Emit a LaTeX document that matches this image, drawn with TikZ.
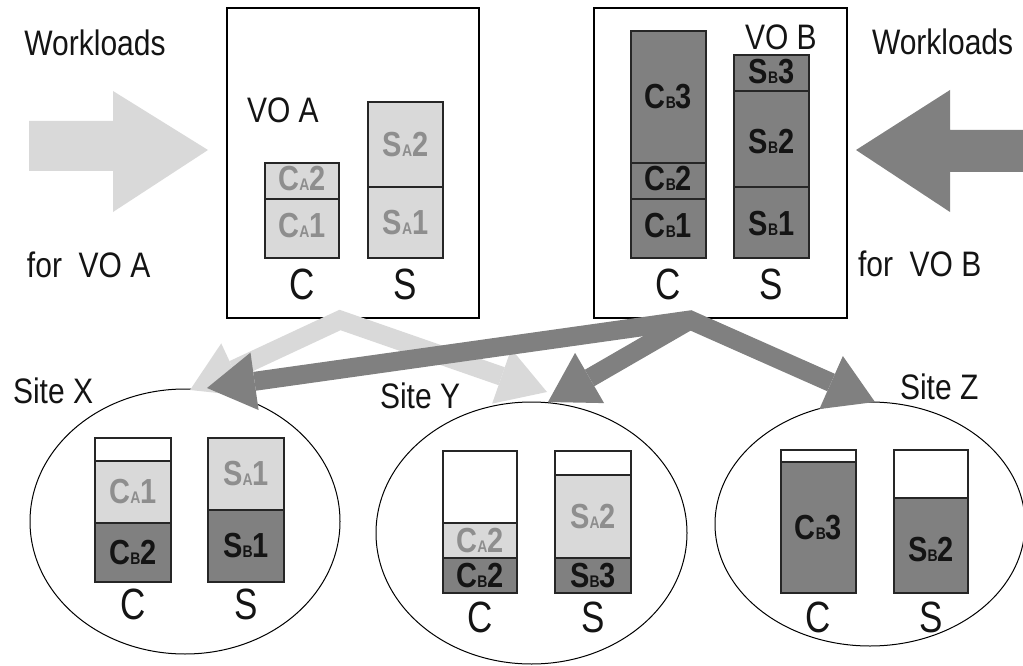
\documentclass[tikz,border=0pt]{standalone}
\usepackage{fontspec}
\usepackage{graphicx}
\setmainfont{Liberation Sans}
\usetikzlibrary{arrows.meta,shapes.geometric}

\definecolor{paleload}{HTML}{D9D9D9}
\definecolor{deepload}{HTML}{808080}
\definecolor{paletext}{HTML}{8E8E8E}
\definecolor{deeptext}{HTML}{141414}

% taller-than-wide lettering used throughout
\newcommand\vstretch[2]{\scalebox{1}[#1]{#2}}
% job name: letter, small owner letter, index
\newcommand\job[3]{\vstretch{1.2}{\bfseries #1{\fontsize{14}{14}\selectfont #2}#3}}
\newcommand\captext[1]{\vstretch{1.18}{#1}}
\newcommand\axistext[1]{\vstretch{1.25}{#1}}

\tikzset{
  every node/.style={inner sep=0pt, outer sep=0pt},
  caption/.style={font=\fontsize{30}{30}\selectfont, text=deeptext},
  axislabel/.style={font=\fontsize{35}{35}\selectfont, text=deeptext},
  slot/.style={draw=black!85, line width=1.1pt},
  paleslot/.style={slot, fill=paleload},
  deepslot/.style={slot, fill=deepload},
  freeslot/.style={slot, fill=white},
  paleid/.style={font=\fontsize{29}{29}\selectfont, text=paletext},
  deepid/.style={font=\fontsize{29}{29}\selectfont, text=deeptext},
  frame/.style={draw=black, line width=1.2pt},
  site/.style={draw=black, line width=1pt, ellipse},
  flowtip/.tip={Triangle[length=48pt,width=58pt,line width=0pt]},
  paleflow/.style={draw=paleload, line width=19pt, line join=miter},
  deepflow/.style={draw=deepload, line width=19pt, line join=miter},
}

\begin{document}
\begin{tikzpicture}[x=1pt,y=-1pt]
\useasboundingbox (0,0) rectangle (1023,666);

% incoming workload arrows
\fill[paleload] (29,121) -- (113,121) -- (113,91) -- (208,150) -- (113,212) -- (113,171) -- (29,171) -- cycle;
\fill[deepload] (1030,130) -- (950,130) -- (950,90) -- (856,150) -- (950,212) -- (950,172) -- (1030,172) -- cycle;

\node[caption] (wlA) at (95,43) {\captext{Workloads}};
\node[caption, anchor=west] (forA) at (27,265) {\captext{for\ \ VO A}};
\node[caption, anchor=west] (wlB) at (872,42) {\captext{Workloads}};
\node[caption, anchor=west] (forB) at (858,264) {\captext{for\ \ VO B}};

% virtual organisation A
\draw[frame] (227,8) rectangle (479,318);
\node[caption, anchor=west] (voA) at (247,110) {\captext{VO A}};
\draw[paleslot] (265,199) rectangle (339,258);
\draw[paleslot] (265,163) rectangle (339,199);
\draw[paleslot] (368,187) rectangle (443,258);
\draw[paleslot] (368,102) rectangle (443,187);
\node[paleid] (aC1) at (302,226) {\job{C}{A}{1}};
\node[paleid] (aC2) at (302,179) {\job{C}{A}{2}};
\node[paleid] (aS1) at (405.5,222.5) {\job{S}{A}{1}};
\node[paleid] (aS2) at (405.5,144.5) {\job{S}{A}{2}};
\node[axislabel] (aC) at (302,284) {\axistext{C}};
\node[axislabel] (aS) at (405.5,284) {\axistext{S}};

% virtual organisation B
\draw[frame] (594,8) rectangle (847,318);
\node[caption, anchor=west] (voB) at (745,37) {\captext{VO B}};
\draw[deepslot] (631,199) rectangle (706,258);
\draw[deepslot] (631,163) rectangle (706,199);
\draw[deepslot] (631,31) rectangle (706,163);
\draw[deepslot] (734,187) rectangle (809,258);
\draw[deepslot] (734,91) rectangle (809,187);
\draw[deepslot] (734,55) rectangle (809,91);
\node[deepid] (bC1) at (668.5,226) {\job{C}{B}{1}};
\node[deepid] (bC2) at (668.5,179) {\job{C}{B}{2}};
\node[deepid] (bC3) at (668.5,97) {\job{C}{B}{3}};
\node[deepid] (bS1) at (771.5,224) {\job{S}{B}{1}};
\node[deepid] (bS2) at (771.5,142) {\job{S}{B}{2}};
\node[deepid] (bS3) at (771.5,72) {\job{S}{B}{3}};
\node[axislabel] (bC) at (668.5,284) {\axistext{C}};
\node[axislabel] (bS) at (771.5,284) {\axistext{S}};

% sites
\node[site, minimum width=310pt, minimum height=265pt] (siteX) at (185,521.5) {};
\node[site, minimum width=311pt, minimum height=262pt] (siteY) at (531.5,533) {};
\node[site, minimum width=310pt, minimum height=244pt] (siteZ) at (870,524) {};
\node[caption, anchor=west] (nameX) at (13,391) {\captext{Site X}};
\node[caption, anchor=west] (nameY) at (380,396) {\captext{Site Y}};
\node[caption, anchor=west] (nameZ) at (900,387) {\captext{Site Z}};

% site X load
\draw[freeslot] (95,438) rectangle (171,461);
\draw[paleslot] (95,461) rectangle (171,523);
\draw[deepslot] (95,523) rectangle (171,582);
\draw[paleslot] (208,438) rectangle (284,510);
\draw[deepslot] (208,510) rectangle (284,582);
\node[paleid] (xC1) at (133,492) {\job{C}{A}{1}};
\node[deepid] (xC2) at (133,552.5) {\job{C}{B}{2}};
\node[paleid] (xS1) at (246,474) {\job{S}{A}{1}};
\node[deepid] (xS2) at (246,546) {\job{S}{B}{1}};
\node[axislabel] (xC) at (133,604) {\axistext{C}};
\node[axislabel] (xS) at (246,604) {\axistext{S}};

% site Y load
\draw[freeslot] (443,451) rectangle (517,523);
\draw[paleslot] (443,523) rectangle (517,558);
\draw[deepslot] (443,558) rectangle (517,593);
\draw[freeslot] (555,451) rectangle (631,475);
\draw[paleslot] (555,475) rectangle (631,558);
\draw[deepslot] (555,558) rectangle (631,593);
\node[paleid] (yC1) at (480,540.5) {\job{C}{A}{2}};
\node[deepid] (yC2) at (480,575.5) {\job{C}{B}{2}};
\node[paleid] (yS1) at (593,516.5) {\job{S}{A}{2}};
\node[deepid] (yS2) at (593,575.5) {\job{S}{B}{3}};
\node[axislabel] (yC) at (480,617) {\axistext{C}};
\node[axislabel] (yS) at (593,617) {\axistext{S}};

% site Z load
\draw[freeslot] (781,450) rectangle (856,462);
\draw[deepslot] (781,462) rectangle (856,593);
\draw[freeslot] (894,450) rectangle (968,498);
\draw[deepslot] (894,498) rectangle (968,593);
\node[deepid] (zC1) at (818.5,527.5) {\job{C}{B}{3}};
\node[deepid] (zS1) at (931,550) {\job{S}{B}{2}};
\node[axislabel] (zC) at (818.5,617) {\axistext{C}};
\node[axislabel] (zS) at (931,617) {\axistext{S}};

% dispatch from the organisations to the sites
\coordinate (paleFork) at (340,320);
\coordinate (deepFork) at (690,320);
\coordinate (toXpale) at (190,390);
\coordinate (toYpale) at (547,392);
\coordinate (toXdeep) at (207,388);
\coordinate (toYdeep) at (548,402);
\coordinate (toZdeep) at (875,402);

\draw[paleflow, {flowtip}-{flowtip}] (toXpale) -- (paleFork) -- (toYpale);
\draw[deepflow, -{flowtip}] (deepFork) -- (toYdeep);
\draw[deepflow, {flowtip}-{flowtip}] (toXdeep) -- (deepFork) -- (toZdeep);
\end{tikzpicture}
\end{document}
